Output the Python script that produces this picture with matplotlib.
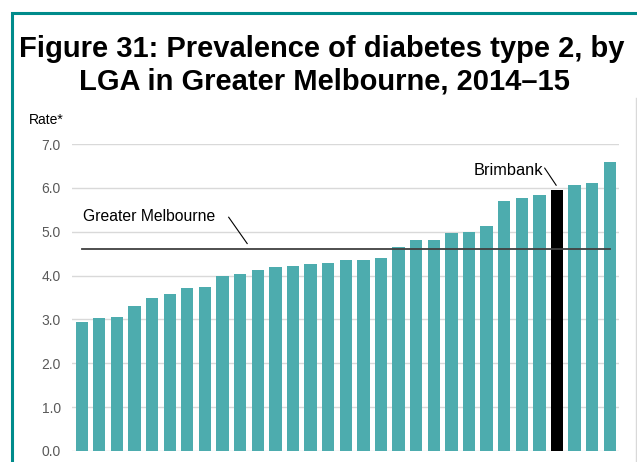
import matplotlib.pyplot as plt
from matplotlib.patches import Rectangle
from matplotlib.lines import Line2D

plt.rcParams['font.family'] = ['Liberation Sans', 'DejaVu Sans']

# Prevalence rate* for the 31 LGAs, sorted ascending
rates = [2.94, 3.03, 3.05, 3.31, 3.50, 3.59, 3.71, 3.74, 4.00, 4.03,
         4.12, 4.19, 4.21, 4.26, 4.28, 4.35, 4.35, 4.41, 4.65, 4.81,
         4.81, 4.97, 4.99, 5.14, 5.71, 5.78, 5.84, 5.94, 6.06, 6.11, 6.58]
highlight_idx = 27          # Brimbank
highlight_label = 'Brimbank'
melb_avg = 4.6
melb_label = 'Greater Melbourne'
yticks = [0, 1, 2, 3, 4, 5, 6, 7]

teal = '#4DACAE'
border = '#008B8B'

fig = plt.figure(figsize=(6.37, 4.62), dpi=100)
W, H = 637, 462

# teal frame around the figure (right/bottom run off the image)
fig.patches.append(Rectangle((11.5 / W, -0.1), 2.0, (H - 13.5) / H + 0.1,
                             transform=fig.transFigure, fill=False,
                             edgecolor=border, linewidth=2.2, zorder=0))
# light grey edge of the chart area on the right
fig.lines.append(Line2D([635.5 / W, 635.5 / W], [0, (H - 98) / H],
                        transform=fig.transFigure, color='#d9d9d9', lw=1))

fig.text(322 / W, (H - 57) / H, 'Figure 31: Prevalence of diabetes type 2, by',
         ha='center', va='baseline', fontsize=21, fontweight='bold')
fig.text(324 / W, (H - 90) / H, 'LGA in Greater Melbourne, 2014\u201315',
         ha='center', va='baseline', fontsize=21, fontweight='bold')

ax = fig.add_axes([72 / W, (H - 451) / H, (619 - 72) / W, (451 - 144) / H])
x = list(range(len(rates)))
colors = [teal] * len(rates)
colors[highlight_idx] = 'black'
ax.bar(x, rates, width=0.7, color=colors, zorder=2)

ax.set_xlim(-0.55, len(rates) - 0.48)
ax.set_ylim(0, 7)
ax.set_yticks(yticks)
ax.set_yticklabels([f'{v:.1f}' for v in yticks], color='#595959', fontsize=10)
ax.tick_params(axis='y', length=0, pad=8)
ax.set_xticks([])
ax.grid(axis='y', color='#d9d9d9', lw=1, zorder=0)
for s in ax.spines.values():
    s.set_visible(False)

# Greater Melbourne reference line
ax.plot([0, len(rates) - 1], [melb_avg, melb_avg], color='#404040', lw=1.3, zorder=3)
ax.text(0.1, 5.34, melb_label, ha='left', va='center', fontsize=11.3)
ax.plot([8.35, 9.4], [5.33, melb_avg + 0.13], color='black', lw=0.8, zorder=3)

# Brimbank label
hv = rates[highlight_idx]
ax.text(highlight_idx - 0.8, hv + 0.46, highlight_label, ha='right', va='center', fontsize=11.8)
ax.plot([highlight_idx - 0.7, highlight_idx - 0.05], [hv + 0.51, hv + 0.12],
        color='black', lw=0.8, zorder=3)

fig.text(29 / W, (H - 120) / H, 'Rate*', ha='left', va='center', fontsize=10)

fig.savefig('out.png', dpi=100)
